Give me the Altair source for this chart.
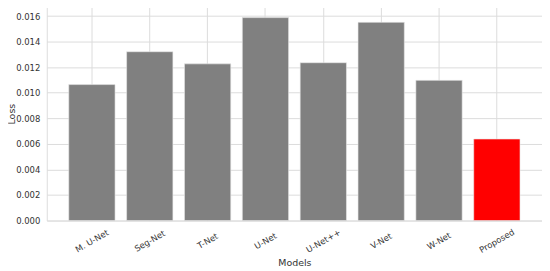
import altair as alt
import pandas as pd

models = ["M. U-Net", "Seg-Net", "T-Net", "U-Net", "U-Net++", "V-Net", "W-Net", "Proposed"]
loss = [0.01064, 0.01321, 0.01226, 0.01588, 0.01235, 0.01551, 0.01097, 0.00638]
colors = ["#808080"] * 7 + ["#ff0000"]
y_ticks = [0.000, 0.002, 0.004, 0.006, 0.008, 0.010, 0.012, 0.014, 0.016]

df = pd.DataFrame({"Models": models, "Loss": loss, "color": colors})

font = "DejaVu Sans"
chart = alt.Chart(df).mark_bar(strokeWidth=0.6, stroke="#e8e8e8").encode(
    x=alt.X("Models:N", sort=models,
            scale=alt.Scale(paddingInner=0.2, paddingOuter=0.38),
            axis=alt.Axis(title="Models", labelAngle=330, labelAlign="center",
                          labelBaseline="middle", labelPadding=20, ticks=False,
                          grid=True, gridColor="#dcdcdc", domain=False,
                          labelFont=font, labelFontSize=8.5, labelColor="#333333",
                          titleFont=font, titleFontSize=9.5, titleFontWeight="normal",
                          titleColor="#333333", titleY=42, titleBaseline="middle")),
    y=alt.Y("Loss:Q", scale=alt.Scale(domain=[0, 0.01673], nice=False),
            axis=alt.Axis(title="Loss", values=y_ticks, format=".3f", ticks=False,
                          grid=True, gridColor="#dcdcdc", domain=False,
                          labelFont=font, labelFontSize=8.5, labelColor="#333333",
                          labelPadding=7, titleFont=font, titleFontSize=9.5,
                          titleFontWeight="normal", titleColor="#333333",
                          titleX=-30)),
    color=alt.Color("color:N", scale=None, legend=None),
).properties(
    width=498, height=215,
    autosize=alt.AutoSizeParams(type="none"),
    padding={"left": 39, "top": -2, "right": 0, "bottom": 50},
).configure_view(stroke="#cccccc", strokeWidth=1).configure(background="white")

chart.save("out.html", embed_options={"renderer": "svg", "actions": False})
